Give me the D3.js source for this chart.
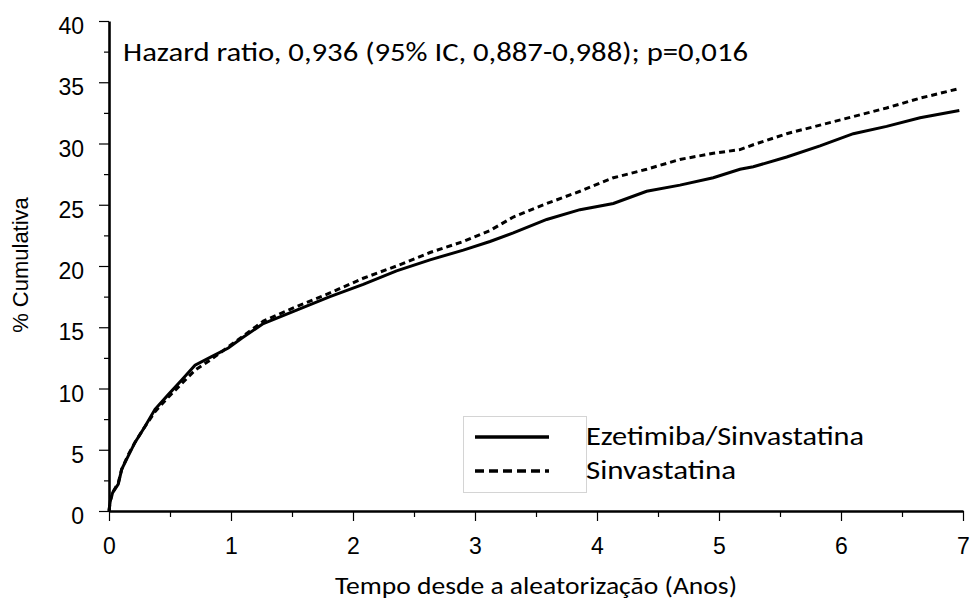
<!DOCTYPE html>
<html>
<head>
<meta charset="utf-8">
<script src="https://cdn.jsdelivr.net/npm/d3@7"></script>
<style>
  body { margin: 0; background: #fff; }
  .tick text { font-family: "Liberation Sans", Arial, sans-serif; }
</style>
</head>
<body>
<div id="chart"></div>
<script>
// Kaplan-Meier style cumulative incidence
var ezeYears = [0, 0.01, 0.03, 0.076, 0.104, 0.158, 0.213, 0.295, 0.377, 0.486, 0.596, 0.705, 0.841, 0.978, 1.087,
  1.265, 1.538, 1.811, 2.084, 2.357, 2.631, 2.904, 3.123, 3.314, 3.588, 3.861, 4.134, 4.407, 4.68, 4.953,
  5.172, 5.281, 5.555, 5.828, 6.101, 6.374, 6.648, 6.97];
var ezeValues = [0, 0.8, 1.5, 2.2, 3.4, 4.5, 5.6, 6.9, 8.3, 9.5, 10.7, 11.9, 12.6, 13.3, 14.1,
  15.3, 16.4, 17.5, 18.5, 19.6, 20.5, 21.3, 22.0, 22.7, 23.8, 24.6, 25.1, 26.1, 26.6, 27.2,
  27.9, 28.1, 28.9, 29.8, 30.8, 31.4, 32.1, 32.7];

var sinYears = [0, 0.01, 0.03, 0.076, 0.104, 0.158, 0.213, 0.295, 0.377, 0.486, 0.596, 0.705, 0.841, 0.978, 1.129,
  1.265, 1.538, 1.811, 2.084, 2.357, 2.631, 2.904, 3.123, 3.314, 3.588, 3.861, 4.134, 4.407, 4.68, 4.953,
  5.172, 5.281, 5.555, 5.828, 6.101, 6.374, 6.648, 6.975];
var sinValues = [0, 0.8, 1.5, 2.3, 3.4, 4.6, 5.6, 6.9, 8.1, 9.3, 10.4, 11.5, 12.4, 13.4, 14.5,
  15.5, 16.7, 17.8, 19.0, 20.0, 21.1, 22.0, 22.9, 24.0, 25.1, 26.1, 27.2, 27.9, 28.7, 29.2,
  29.5, 29.9, 30.8, 31.5, 32.2, 32.9, 33.7, 34.5];

var xTicks = [0, 1, 2, 3, 4, 5, 6, 7];
var xMinorTicks = [0.5, 1.5, 2.5, 3.5, 4.5, 5.5, 6.5];
var yTicks = [0, 5, 10, 15, 20, 25, 30, 35, 40];
var yMinorTicks = [2.5, 7.5, 12.5, 17.5, 22.5, 27.5, 32.5, 37.5];

var seriesNames = ["Ezetimiba/Sinvastatina", "Sinvastatina"];
var annotation = "Hazard ratio, 0,936 (95% IC, 0,887-0,988); p=0,016";
var xTitle = "Tempo desde a aleatoriza\u00e7\u00e3o (Anos)";
var yTitle = "% Cumulativa";

var svgWidth = 972, svgHeight = 601;
var margin = { top: 21, right: 9, bottom: 90, left: 109 };
var width = svgWidth - margin.left - margin.right;
var height = svgHeight - margin.top - margin.bottom;
var calibri = "Carlito, 'Open Sans', Lato, sans-serif";

var svg = d3.select("#chart").append("svg")
  .attr("width", svgWidth)
  .attr("height", svgHeight);

var chartGroup = svg.append("g")
  .attr("transform", `translate(${margin.left}, ${margin.top})`);

var x = d3.scaleLinear().domain([0, 7]).range([0, width]);
var y = d3.scaleLinear().domain([0, 40]).range([height, 0]);

// stretch a text to the width it has in the picture
function fitWidth(sel, w) {
  var n = sel.node();
  var cur = n.getComputedTextLength();
  if (Math.abs(cur - w) > 2) sel.attr("textLength", w).attr("lengthAdjust", "spacingAndGlyphs");
}

// minor ticks first, then major axes on top
chartGroup.append("g")
  .attr("transform", `translate(0, ${height})`)
  .call(d3.axisBottom(x).tickValues(xMinorTicks).tickSize(6).tickSizeOuter(0).tickFormat(""))
  .call(g => g.select(".domain").remove())
  .selectAll("line").attr("stroke-width", 1.2);

chartGroup.append("g")
  .call(d3.axisLeft(y).tickValues(yMinorTicks).tickSize(5).tickSizeOuter(0).tickFormat(""))
  .call(g => g.select(".domain").remove())
  .selectAll("line").attr("stroke-width", 1.2);

var xAxis = chartGroup.append("g")
  .attr("transform", `translate(0, ${height})`)
  .call(d3.axisBottom(x).tickValues(xTicks).tickSize(10).tickSizeOuter(0).tickPadding(17)
    .tickFormat(d3.format("d")));
xAxis.select(".domain").attr("stroke-width", 2.6);
xAxis.selectAll(".tick line").attr("stroke-width", 1.2);
xAxis.selectAll(".tick text").attr("font-size", 23).attr("fill", "#000");

var yAxis = chartGroup.append("g")
  .call(d3.axisLeft(y).tickValues(yTicks).tickSize(10).tickSizeOuter(0).tickPadding(15));
yAxis.select(".domain").attr("stroke-width", 2.6);
yAxis.selectAll(".tick line").attr("stroke-width", 1.2);
yAxis.selectAll(".tick text").attr("font-size", 23).attr("fill", "#000").attr("dy", "0.55em");

// curves
var line = d3.line()
  .x(d => x(d[0]))
  .y(d => y(d[1]));

chartGroup.append("path")
  .datum(d3.zip(ezeYears, ezeValues))
  .attr("fill", "none")
  .attr("stroke", "#000")
  .attr("stroke-width", 3)
  .attr("d", line);

chartGroup.append("path")
  .datum(d3.zip(sinYears, sinValues))
  .attr("fill", "none")
  .attr("stroke", "#000")
  .attr("stroke-width", 3)
  .attr("stroke-dasharray", "6,4")
  .attr("d", line);

// annotation
svg.append("text")
  .attr("x", 123)
  .attr("y", 61)
  .attr("font-family", calibri)
  .attr("font-size", 26)
  .attr("fill", "#000")
  .text(annotation)
  .call(fitWidth, 625);

// legend
var legend = svg.append("g");
legend.append("rect")
  .attr("x", 463.5).attr("y", 416.5)
  .attr("width", 123).attr("height", 76)
  .attr("fill", "#fff")
  .attr("stroke", "#d4d4d4");

var legendY = [437, 471];
var legendWidths = [278, 150];
seriesNames.forEach(function(name, i) {
  legend.append("line")
    .attr("x1", 475).attr("x2", 549)
    .attr("y1", legendY[i]).attr("y2", legendY[i])
    .attr("stroke", "#000")
    .attr("stroke-width", 3.5)
    .attr("stroke-dasharray", i === 1 ? "9,5" : null);
  legend.append("text")
    .attr("x", 586)
    .attr("y", legendY[i] + 8)
    .attr("font-family", calibri)
    .attr("font-size", 26)
    .attr("fill", "#000")
    .text(name)
    .call(fitWidth, legendWidths[i]);
});

// axis titles
svg.append("text")
  .attr("x", 335)
  .attr("y", 594)
  .attr("font-family", calibri)
  .attr("font-size", 25)
  .attr("fill", "#000")
  .text(xTitle)
  .call(fitWidth, 402);

svg.append("text")
  .attr("transform", "translate(28, 265) rotate(-90)")
  .attr("text-anchor", "middle")
  .attr("font-family", "'Liberation Sans', Arial, sans-serif")
  .attr("font-size", 22)
  .attr("fill", "#000")
  .text(yTitle);
</script>
</body>
</html>
